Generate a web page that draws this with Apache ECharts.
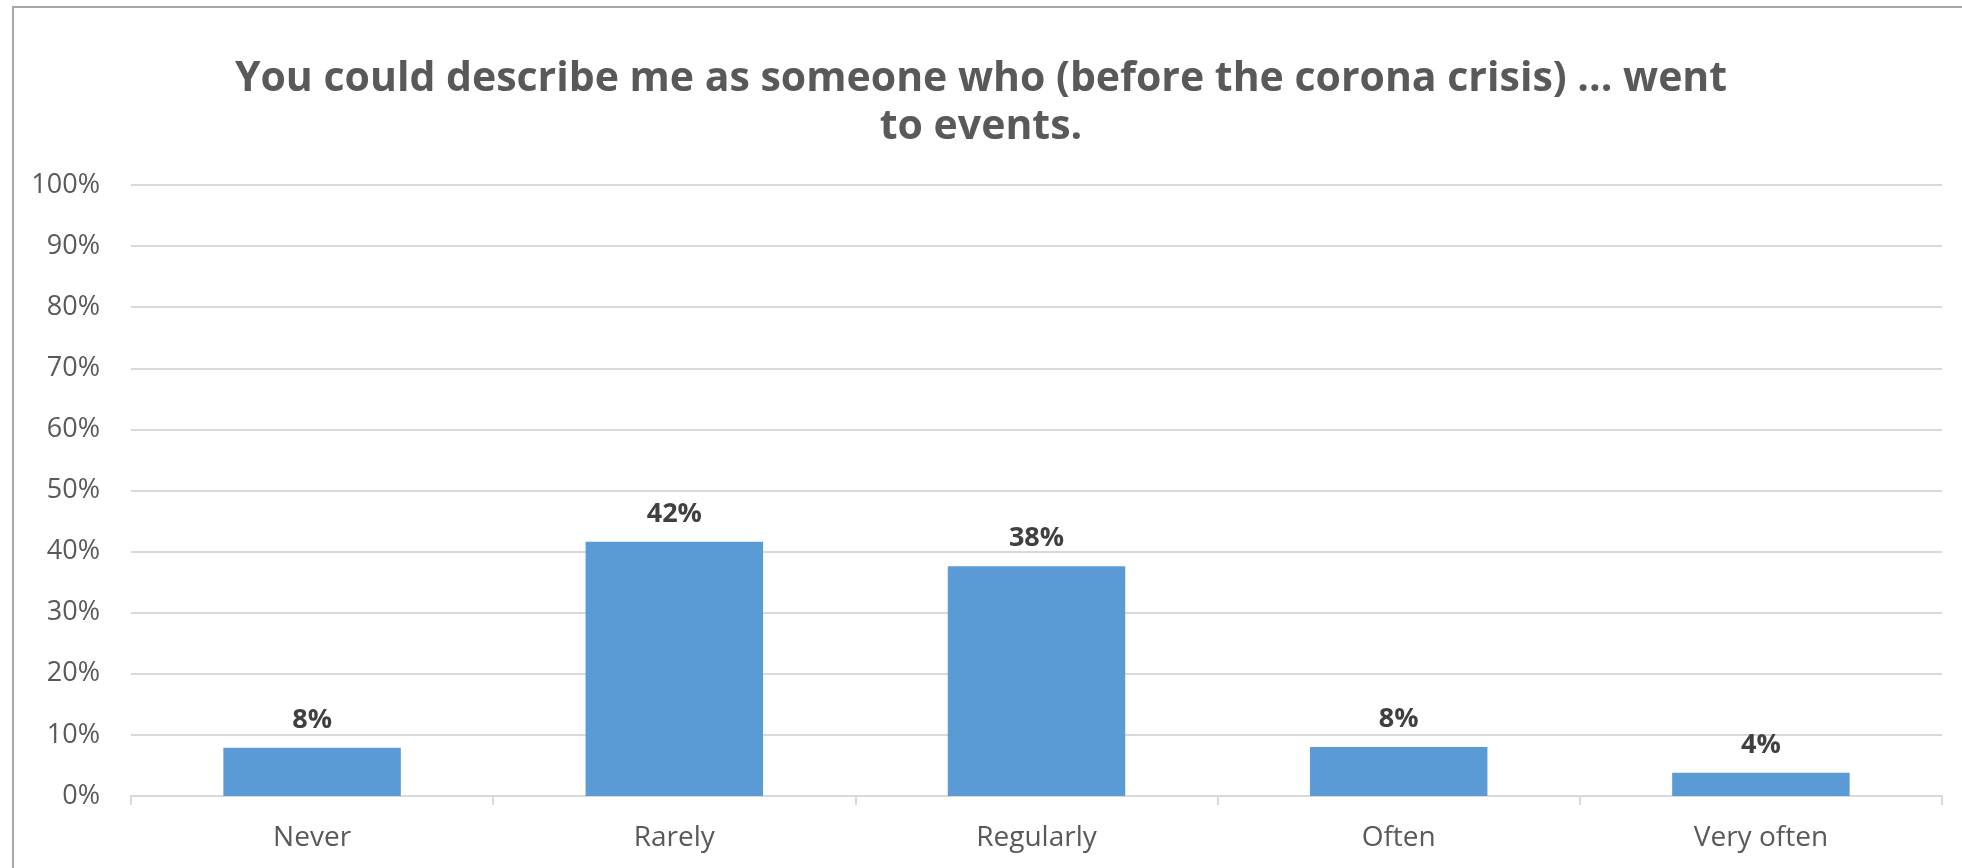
<!DOCTYPE html>
<html>
<head>
<meta charset="utf-8">
<script src="https://cdn.jsdelivr.net/npm/echarts@6/dist/echarts.min.js"></script>
<style>
html,body{margin:0;padding:0;background:#fff;}
#chart{width:1962px;height:868px;}
</style>
</head>
<body>
<div id="chart"></div>
<script>
const titleText = 'You could describe me as someone who (before the corona crisis) ... went\nto events.';
const categories = ['Never', 'Rarely', 'Regularly', 'Often', 'Very often'];
const values = [0.079, 0.416, 0.376, 0.080, 0.038];
const yTicks = [0, 0.1, 0.2, 0.3, 0.4, 0.5, 0.6, 0.7, 0.8, 0.9, 1.0];

const FONT = '"Open Sans", "Liberation Sans", sans-serif';
const chart = echarts.init(document.getElementById('chart'), null, {renderer: 'canvas'});
chart.setOption({
  backgroundColor: '#ffffff',
  animation: false,
  graphic: [{
    type: 'rect',
    shape: {x: 13, y: 7, width: 2100, height: 1000},
    style: {fill: 'none', stroke: '#a6a6a6', lineWidth: 2},
    silent: true
  }],
  title: {
    text: titleText,
    left: 'center',
    top: 50,
    textStyle: {
      fontFamily: FONT,
      fontSize: 41,
      fontWeight: 'bold',
      color: '#595959',
      lineHeight: 48
    }
  },
  grid: {left: 131, right: 20, top: 185, bottom: 72, containLabel: false},
  xAxis: {
    type: 'category',
    data: categories,
    axisLine: {lineStyle: {color: '#d9d9d9', width: 2}},
    axisTick: {show: true, length: 9, alignWithLabel: false, lineStyle: {color: '#d9d9d9', width: 2}},
    axisLabel: {fontFamily: FONT, fontSize: 28, color: '#595959', margin: 28}
  },
  yAxis: {
    type: 'value',
    min: yTicks[0],
    max: yTicks[yTicks.length - 1],
    interval: 0.1,
    axisLine: {show: false},
    axisTick: {show: false},
    splitLine: {lineStyle: {color: '#d9d9d9', width: 2}},
    axisLabel: {
      fontFamily: FONT, fontSize: 27, color: '#595959', margin: 31,
      formatter: v => Math.round(v * 100) + '%'
    }
  },
  series: [{
    type: 'bar',
    data: values,
    barWidth: '49%',
    itemStyle: {color: '#5b9bd5'},
    label: {
      show: true,
      position: 'top',
      distance: 14,
      fontFamily: FONT,
      fontSize: 27,
      fontWeight: 'bold',
      color: '#404040',
      formatter: p => Math.round(p.value * 100) + '%'
    }
  }]
});
</script>
</body>
</html>
